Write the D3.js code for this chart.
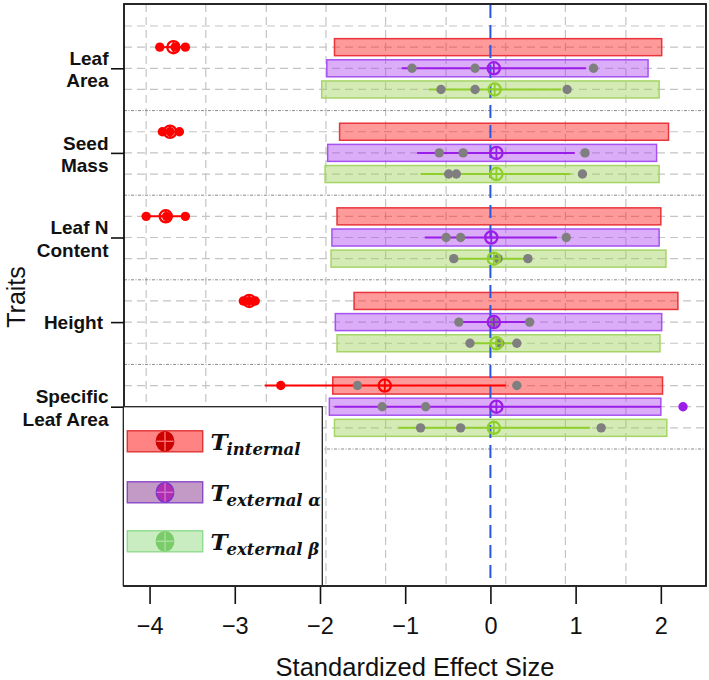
<!DOCTYPE html>
<html>
<head>
<meta charset="utf-8">
<script src="https://cdn.jsdelivr.net/npm/d3@7"></script>
<style>
  html, body { margin: 0; padding: 0; background: #ffffff; }
  svg { display: block; }
</style>
</head>
<body>
<svg id="chart" width="709" height="680"></svg>
<script>
// ---------------- DATA ----------------
const traitLabels = [["Leaf", "Area"], ["Seed", "Mass"], ["Leaf N", "Content"], ["Height"], ["Specific", "Leaf Area"]];
const xTicks = [-4, -3, -2, -1, 0, 1, 2];
const gridX = [-4.04, -3.34, -2.63, -1.93, -1.23, -0.52, 0.18, 0.88, 1.59];
const legendSubs = ["internal", "external \u03B1", "external \u03B2"];

// null-model (standardized) bars per trait
const internalBarLo = [-1.83, -1.77, -1.80, -1.60, -1.85];
const internalBarHi = [2.01, 2.09, 2.00, 2.20, 2.02];
const alphaBarLo = [-1.92, -1.91, -1.86, -1.82, -1.89];
const alphaBarHi = [1.85, 1.95, 1.98, 2.01, 2.00];
const betaBarLo = [-1.98, -1.94, -1.87, -1.80, -1.83];
const betaBarHi = [1.98, 1.98, 2.06, 1.99, 2.07];

// observed means
const internalMean = [-3.72, -3.76, -3.81, -2.83, -1.24];
const alphaMean = [0.04, 0.07, 0.01, 0.04, 0.07];
const betaMean = [0.05, 0.07, 0.04, 0.07, 0.04];

// interval lines
const internalCiLo = [-3.88, -3.85, -4.04, -2.90, -2.65];
const internalCiHi = [-3.58, -3.65, -3.58, -2.76, 0.18];
const alphaCiLo = [-1.04, -0.86, -0.77, -0.37, -1.83];
const alphaCiHi = [1.12, 0.99, 0.78, 0.46, 2.00];
const betaCiLo = [-0.72, -0.82, -0.43, -0.24, -1.08];
const betaCiHi = [0.83, 0.94, 0.44, 0.31, 1.17];

// individual observations
const internalPts = [[-3.88, -3.70, -3.58], [-3.85, -3.76, -3.65], [-4.04, -3.80, -3.58], [-2.90, -2.83, -2.76], [-2.46, -1.56, 0.31]];
const alphaPts = [[-0.92, -0.18, 1.21], [-0.60, -0.32, 1.11], [-0.52, -0.35, 0.89], [-0.37, 0.04, 0.46], [-1.27, -0.76, 2.26]];
const betaPts = [[-0.58, -0.18, 0.90], [-0.49, -0.40, 1.08], [-0.43, 0.09, 0.44], [-0.24, 0.11, 0.31], [-0.82, -0.35, 1.30]];

// ---------------- STYLE ----------------
const seriesStyle = [
  { fill: "rgba(255,40,40,0.47)", stroke: "#e8343a", mark: "#ff0000",
    lfill: "#ff8383", lstroke: "#dd3333", lmark: "#cc0000", lcross: "#ff7070" },
  { fill: "rgba(175,70,240,0.45)", stroke: "#a552f0", mark: "#9b1de8",
    lfill: "#c39ac6", lstroke: "#8a48c8", lmark: "#b02eb0", lcross: "#d070d0" },
  { fill: "rgba(160,210,90,0.45)", stroke: "#a6d566", mark: "#8fcf2c",
    lfill: "#c9ecc0", lstroke: "#8fdc8f", lmark: "#7acb6a", lcross: "#a8e09c" }
];

const series = [
  { lo: internalBarLo, hi: internalBarHi, mean: internalMean, ciLo: internalCiLo, ciHi: internalCiHi, pts: internalPts },
  { lo: alphaBarLo, hi: alphaBarHi, mean: alphaMean, ciLo: alphaCiLo, ciHi: alphaCiHi, pts: alphaPts },
  { lo: betaBarLo, hi: betaBarHi, mean: betaMean, ciLo: betaCiLo, ciHi: betaCiHi, pts: betaPts }
];

const svg = d3.select("#chart");
const L = 124, R = 706, T = 4, B = 586;

const x = d3.scaleLinear().domain([-4.3, 2.53]).range([L, R]);
const y = d3.scaleLinear().domain([0, 20]).range([26, 449]);

const rowOf = (t, s) => 1 + 4 * t + s;

// ---------- grid ----------
const grid = svg.append("g");
grid.selectAll("line.vg").data(gridX).join("line")
  .attr("x1", d => x(d)).attr("x2", d => x(d))
  .attr("y1", T).attr("y2", B)
  .attr("stroke", "#c4c4c4").attr("stroke-width", 1.2)
  .attr("stroke-dasharray", "8,5");

const rows = d3.range(0, 21);
grid.selectAll("line.hg").data(rows).join("line")
  .attr("x1", L).attr("x2", R)
  .attr("y1", d => y(d)).attr("y2", d => y(d))
  .attr("stroke", d => (d > 0 && d % 4 === 0) ? "#8a8a8a" : "#c4c4c4")
  .attr("stroke-width", d => (d > 0 && d % 4 === 0) ? 1 : 1.2)
  .attr("stroke-dasharray", d => (d > 0 && d % 4 === 0) ? "3,1.5,1,1.5" : "8,5");

// ---------- bars, lines, points ----------
const barH = 17;
series.forEach((s, si) => {
  const st = seriesStyle[si];
  const g = svg.append("g");
  traitLabels.forEach((_, t) => {
    const yc = y(rowOf(t, si));
    g.append("rect")
      .attr("x", x(s.lo[t])).attr("y", yc - barH / 2)
      .attr("width", x(s.hi[t]) - x(s.lo[t])).attr("height", barH)
      .attr("fill", st.fill).attr("stroke", st.stroke).attr("stroke-width", 1.5);
  });
});

// blue zero line
svg.append("line")
  .attr("x1", x(0)).attr("x2", x(0)).attr("y1", T + 1).attr("y2", B - 2)
  .attr("stroke", "#2a55e0").attr("stroke-width", 2)
  .attr("stroke-dasharray", "13,7");

series.forEach((s, si) => {
  const st = seriesStyle[si];
  const g = svg.append("g");
  traitLabels.forEach((_, t) => {
    const yc = y(rowOf(t, si));
    g.append("line")
      .attr("x1", x(s.ciLo[t])).attr("x2", x(s.ciHi[t]))
      .attr("y1", yc).attr("y2", yc)
      .attr("stroke", st.mark).attr("stroke-width", 2);
    g.selectAll(null).data(s.pts[t]).join("circle")
      .attr("cx", d => x(d)).attr("cy", yc).attr("r", 4.7)
      .attr("fill", d => (d < s.lo[t] || d > s.hi[t]) ? st.mark : "#7f7f7f");
    const cx = x(s.mean[t]), r = 6.1;
    g.append("circle").attr("cx", cx).attr("cy", yc).attr("r", r)
      .attr("fill", "none").attr("stroke", st.mark).attr("stroke-width", 2.3);
    g.append("line").attr("x1", cx - r).attr("x2", cx + r).attr("y1", yc).attr("y2", yc)
      .attr("stroke", st.mark).attr("stroke-width", 1.8);
    g.append("line").attr("x1", cx).attr("x2", cx).attr("y1", yc - r).attr("y2", yc + r)
      .attr("stroke", st.mark).attr("stroke-width", 1.8);
  });
});

// ---------- frame ----------
svg.append("rect").attr("x", L).attr("y", T).attr("width", R - L).attr("height", B - T)
  .attr("fill", "none").attr("stroke", "#111").attr("stroke-width", 1.8);

// ---------- x axis ----------
const xAxis = d3.axisBottom(x).tickValues(xTicks).tickSize(17).tickPadding(0)
  .tickFormat(d => d < 0 ? "\u2212" + Math.abs(d) : String(d));
const gx = svg.append("g").attr("transform", `translate(0,${B + 1})`).call(xAxis);
gx.select(".domain").remove();
gx.selectAll(".tick line").attr("stroke", "#111").attr("stroke-width", 1.6);
gx.selectAll(".tick text")
  .attr("y", 47).attr("dy", null)
  .attr("fill", "#111")
  .style("font-family", "'Liberation Sans', Arial, sans-serif")
  .style("font-size", "23.5px");

svg.append("text")
  .attr("x", (L + R) / 2).attr("y", 676)
  .attr("text-anchor", "middle")
  .style("font-family", "'Liberation Sans', Arial, sans-serif")
  .style("font-size", "25.5px").attr("fill", "#111")
  .text("Standardized Effect Size");

// ---------- y axis (traits) ----------
const traitRows = traitLabels.map((_, t) => rowOf(t, 1));
const yAxis = d3.axisLeft(y).tickValues(traitRows).tickSize(13).tickFormat("");
const gy = svg.append("g").attr("transform", `translate(${L},0)`).call(yAxis);
gy.select(".domain").remove();
gy.selectAll(".tick line").attr("stroke", "#111").attr("stroke-width", 1.6);

traitLabels.forEach((lines, t) => {
  const yc = y(traitRows[t]);
  const txt = svg.append("text")
    .attr("text-anchor", "end")
    .style("font-family", "'Liberation Sans', Arial, sans-serif")
    .style("font-weight", "bold").style("font-size", "19px").attr("fill", "#111");
  if (lines.length === 1) {
    txt.append("tspan").attr("x", 103).attr("y", yc + 6.5).text(lines[0]);
  } else {
    txt.append("tspan").attr("x", 108.5).attr("y", yc - 3.3).text(lines[0]);
    txt.append("tspan").attr("x", 108.5).attr("y", yc + 19).text(lines[1]);
  }
});

svg.append("text")
  .attr("transform", "translate(25,297) rotate(-90)")
  .attr("text-anchor", "middle")
  .style("font-family", "'Liberation Sans', Arial, sans-serif")
  .style("font-size", "25px").attr("fill", "#111")
  .text("Traits");

// ---------- legend ----------
const lg = svg.append("g");
lg.append("rect").attr("x", 123.3).attr("y", 406.7).attr("width", 199).attr("height", 179)
  .attr("fill", "#fff").attr("stroke", "#222").attr("stroke-width", 1.3);
const legendY = [441.3, 492.3, 541.3];
legendSubs.forEach((sub, i) => {
  const st = seriesStyle[i];
  const yc = legendY[i];
  lg.append("rect").attr("x", 127.3).attr("y", yc - 10.5).attr("width", 75.4).attr("height", 21)
    .attr("fill", st.lfill).attr("stroke", st.lstroke).attr("stroke-width", 1.4);
  lg.append("ellipse").attr("cx", 165).attr("cy", yc).attr("rx", 8.8).attr("ry", 9.8)
    .attr("fill", st.lmark).attr("stroke", i === 1 ? "#7030d0" : st.lmark).attr("stroke-width", 1.2);
  lg.append("line").attr("x1", 156.5).attr("x2", 173.5).attr("y1", yc).attr("y2", yc)
    .attr("stroke", st.lcross).attr("stroke-width", 1.4);
  lg.append("line").attr("x1", 165).attr("x2", 165).attr("y1", yc - 9.5).attr("y2", yc + 9.5)
    .attr("stroke", st.lcross).attr("stroke-width", 1.4);
  lg.append("text").attr("x", 210.5).attr("y", yc + 8.7)
    .style("font-family", "'DejaVu Serif', serif").style("font-weight", "bold")
    .style("font-style", "italic").style("font-size", "23px").attr("fill", "#111")
    .text("T");
  lg.append("text").attr("x", 226.5).attr("y", yc + 14)
    .style("font-family", "'DejaVu Serif', serif").style("font-weight", "bold")
    .style("font-style", "italic").style("font-size", "16.5px").attr("fill", "#111")
    .text(sub);
});
</script>
</body>
</html>
